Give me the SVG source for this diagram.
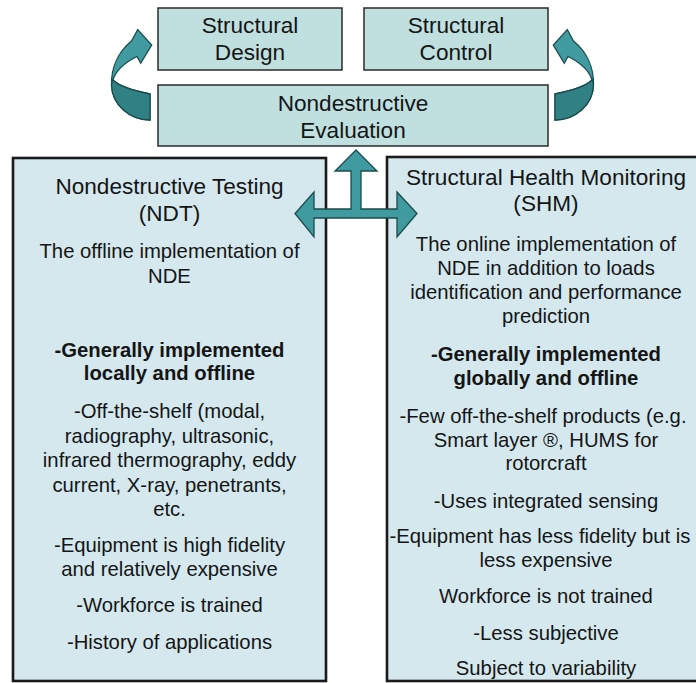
<svg xmlns="http://www.w3.org/2000/svg" width="696" height="683" viewBox="0 0 696 683">
  <style>
    .top { fill: #c0e0e0; stroke: #2a2a2a; stroke-width: 1.5; }
    .panel { fill: #d4e8ee; stroke: #1a1a1a; stroke-width: 2.6; }
    text { font-family: "Liberation Sans", Arial, sans-serif; fill: #151515; text-anchor: middle; }
    .h { font-size: 22.6px; }
    .b { font-size: 20.3px; }
    .bb { font-size: 20.3px; font-weight: bold; }
    .arrow { fill: #3f9b9f; stroke: #1c4b4d; stroke-width: 1.3; stroke-linejoin: miter; }
    .shade { fill: #2f8184; stroke: #1c4b4d; stroke-width: 1.3; }
  </style>
  <defs>
    <!-- curved return arrow: tail at lower right, head at top pointing right -->
    <g id="curl">
      <path class="arrow" d="M150,120 C130,120 112,105 111.5,85 C111,68 118,52 131.5,41 L137.7,29.5 L151.7,45 L140.7,63.3 L137,56.5 C126,62 116,70 113,80 C120,87 135,91 150,94 Z"/>
      <path class="shade" d="M150,120 C130,120 112,105 111.5,85 C111.8,82 112.3,81 113,80 C120,87 135,91 150,94 Z"/>
    </g>
  </defs>

  <rect width="696" height="683" fill="#ffffff"/>

  <g id="structural-design">
    <rect class="top" x="158" y="8" width="184" height="62"/>
    <text class="h" x="250" y="33">Structural</text>
    <text class="h" x="250" y="59.5">Design</text>
  </g>

  <g id="structural-control">
    <rect class="top" x="364" y="8" width="184" height="62"/>
    <text class="h" x="456" y="33">Structural</text>
    <text class="h" x="456" y="59.5">Control</text>
  </g>

  <g id="nde">
    <rect class="top" x="158" y="85" width="390" height="61"/>
    <text class="h" x="353" y="110.5">Nondestructive</text>
    <text class="h" x="353" y="137.5">Evaluation</text>
  </g>

  <g id="ndt">
    <rect class="panel" x="13" y="158" width="313" height="523"/>
    <text class="h" x="169.5" y="194">Nondestructive Testing</text>
    <text class="h" x="169.5" y="221">(NDT)</text>
    <text class="b" x="169.5" y="258">The offline implementation of</text>
    <text class="b" x="169.5" y="283">NDE</text>
    <text class="bb" x="169.5" y="356.5">-Generally implemented</text>
    <text class="bb" x="169.5" y="380">locally and offline</text>
    <text class="b" x="169.5" y="418">-Off-the-shelf (modal,</text>
    <text class="b" x="169.5" y="442.5">radiography, ultrasonic,</text>
    <text class="b" x="169.5" y="467">infrared thermography, eddy</text>
    <text class="b" x="169.5" y="491.5">current, X-ray, penetrants,</text>
    <text class="b" x="169.5" y="516">etc.</text>
    <text class="b" x="169.5" y="552">-Equipment is high fidelity</text>
    <text class="b" x="169.5" y="575.5">and relatively expensive</text>
    <text class="b" x="169.5" y="612">-Workforce is trained</text>
    <text class="b" x="169.5" y="648.5">-History of applications</text>
  </g>

  <g id="shm">
    <rect class="panel" x="387" y="157" width="320" height="524"/>
    <text class="h" x="546" y="184.5">Structural Health Monitoring</text>
    <text class="h" x="546" y="211">(SHM)</text>
    <text class="b" x="546" y="251">The online implementation of</text>
    <text class="b" x="546" y="275">NDE in addition to loads</text>
    <text class="b" x="546" y="299">identification and performance</text>
    <text class="b" x="546" y="323">prediction</text>
    <text class="bb" x="546" y="360.5">-Generally implemented</text>
    <text class="bb" x="546" y="384.5">globally and offline</text>
    <text class="b" x="543" y="423">-Few off-the-shelf products (e.g.</text>
    <text class="b" x="546" y="446.5">Smart layer ®, HUMS for</text>
    <text class="b" x="546" y="469.5">rotorcraft</text>
    <text class="b" x="546" y="507.5">-Uses integrated sensing</text>
    <text class="b" x="540" y="543">-Equipment has less fidelity but is</text>
    <text class="b" x="546" y="567">less expensive</text>
    <text class="b" x="546" y="603">Workforce is not trained</text>
    <text class="b" x="546" y="639.5">-Less subjective</text>
    <text class="b" x="546" y="675">Subject to variability</text>
  </g>

  <g id="connectors">
    <!-- feedback loops between evaluation and design / control -->
    <use href="#curl"/>
    <use href="#curl" transform="translate(705,0) scale(-1,1)"/>
    <!-- three-way arrow linking evaluation with NDT and SHM -->
    <path class="arrow" d="M356,150 L377,171 L361,171 L361,209 L397,209 L397,192 L417,213.5 L397,237 L397,218 L314,218 L314,237 L295,213.5 L314,192 L314,209 L351,209 L351,171 L335,171 Z"/>
  </g>
</svg>
